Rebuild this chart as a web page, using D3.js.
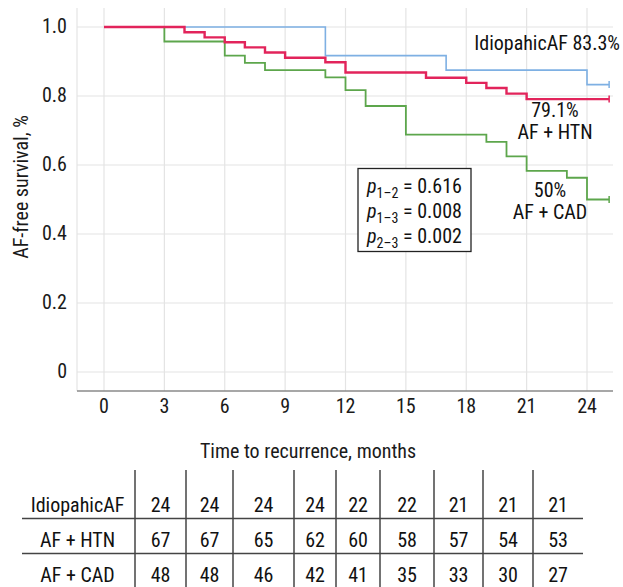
<!DOCTYPE html>
<html>
<head>
<meta charset="utf-8">
<script src="https://cdn.jsdelivr.net/npm/d3@7"></script>
<style>
  body { margin: 0; background: #fff; }
  svg { display: block; font-family: "Roboto Condensed", Roboto, sans-serif; font-stretch: condensed; }
</style>
</head>
<body>
<svg id="chart" width="623" height="587"></svg>
<script>
// Kaplan-Meier steps: [month, survival]
const idiopathic = [[0, 1], [11, 0.917], [17, 0.875], [24, 0.833], [25.1, 0.833]];
const afHtn = [[0, 1], [4, 0.985], [5, 0.970], [6, 0.956], [7, 0.941], [8, 0.926], [9, 0.911],
  [11, 0.898], [12, 0.868], [16, 0.853], [18, 0.838], [19, 0.823], [20, 0.807], [21, 0.791], [25.1, 0.791]];
const afCad = [[0, 1], [3, 0.958], [6, 0.917], [7, 0.896], [8, 0.875], [11, 0.854], [12, 0.817],
  [13, 0.771], [15, 0.688], [19, 0.667], [20, 0.625], [21, 0.583], [23, 0.563], [24, 0.5], [25.1, 0.5]];

const xTicks = [0, 3, 6, 9, 12, 15, 18, 21, 24];
const yTicks = [0, 0.2, 0.4, 0.6, 0.8, 1.0];

const groupNames = ["IdiopahicAF", "AF + HTN", "AF + CAD"];
const atRisk = [
  [24, 24, 24, 24, 22, 22, 21, 21, 21],
  [67, 67, 65, 62, 60, 58, 57, 54, 53],
  [48, 48, 46, 42, 41, 35, 33, 30, 27]
];
const pValues = [["1\u20132", "0.616"], ["1\u20133", "0.008"], ["2\u20133", "0.002"]];

const svg = d3.select("#chart");
const fs = 20;

// plot area
const plotLeft = 77, plotRight = 613, plotTop = 8, plotBottom = 391;
const x = d3.scaleLinear().domain([0, 24]).range([104, 587]);
const y = d3.scaleLinear().domain([0, 1]).range([372, 27]);

// grid
svg.append("g").selectAll("line").data(yTicks).enter().append("line")
  .attr("x1", plotLeft).attr("x2", plotRight)
  .attr("y1", d => y(d)).attr("y2", d => y(d))
  .attr("stroke", "#e4e4e4").attr("stroke-width", 1.2);
svg.append("g").selectAll("line").data(xTicks).enter().append("line")
  .attr("x1", d => x(d)).attr("x2", d => x(d))
  .attr("y1", plotTop).attr("y2", plotBottom)
  .attr("stroke", "#e4e4e4").attr("stroke-width", 1.2);
svg.append("line")
  .attr("x1", plotLeft).attr("x2", plotLeft).attr("y1", plotTop).attr("y2", plotBottom)
  .attr("stroke", "#e4e4e4").attr("stroke-width", 1.2);

// bottom axis line
svg.append("line")
  .attr("x1", plotLeft).attr("x2", plotRight).attr("y1", plotBottom).attr("y2", plotBottom)
  .attr("stroke", "#8a8a8a").attr("stroke-width", 1.5);

// tick labels
svg.append("g").selectAll("text").data(xTicks).enter().append("text")
  .attr("x", d => x(d)).attr("y", 413)
  .attr("text-anchor", "middle").attr("font-size", fs).attr("fill", "#1a1a1a")
  .text(d => d);
svg.append("g").selectAll("text").data(yTicks).enter().append("text")
  .attr("x", 67).attr("y", d => y(d) + 6)
  .attr("text-anchor", "end").attr("font-size", fs).attr("fill", "#1a1a1a")
  .text(d => d === 0 ? "0" : d.toFixed(1));

// axis titles
svg.append("text")
  .attr("transform", "translate(28,187) rotate(-90)")
  .attr("text-anchor", "middle").attr("font-size", fs).attr("fill", "#1a1a1a")
  .text("AF-free survival, %");
svg.append("text")
  .attr("x", 308).attr("y", 458)
  .attr("text-anchor", "middle").attr("font-size", fs).attr("fill", "#1a1a1a")
  .text("Time to recurrence, months");

// curves
const line = d3.line().x(d => x(d[0])).y(d => y(d[1])).curve(d3.curveStepAfter);
const series = [
  { data: idiopathic, color: "#7eb0e3", width: 1.6 },
  { data: afCad, color: "#5da64c", width: 1.8 },
  { data: afHtn, color: "#e2245b", width: 2.4 }
];
series.forEach(s => {
  svg.append("path").datum(s.data)
    .attr("d", line).attr("fill", "none")
    .attr("stroke", s.color).attr("stroke-width", s.width);
  const last = s.data[s.data.length - 1];
  svg.append("line")
    .attr("x1", x(last[0])).attr("x2", x(last[0]))
    .attr("y1", y(last[1]) - 3.5).attr("y2", y(last[1]) + 3.5)
    .attr("stroke", s.color).attr("stroke-width", 1.5);
});

// curve annotations
const notes = [
  { text: "IdiopahicAF 83.3%", x: 620, y: 50, anchor: "end" },
  { text: "79.1%", x: 555, y: 117, anchor: "middle" },
  { text: "AF + HTN", x: 555, y: 139, anchor: "middle" },
  { text: "50%", x: 550, y: 197, anchor: "middle" },
  { text: "AF + CAD", x: 550, y: 219, anchor: "middle" }
];
svg.append("g").selectAll("text").data(notes).enter().append("text")
  .attr("x", d => d.x).attr("y", d => d.y)
  .attr("text-anchor", d => d.anchor).attr("font-size", fs).attr("fill", "#111")
  .text(d => d.text);

// p-value box
svg.append("rect")
  .attr("x", 358).attr("y", 168.5).attr("width", 113).attr("height", 83)
  .attr("fill", "#fff").attr("stroke", "#222").attr("stroke-width", 1.3);
const pt = svg.append("g").selectAll("text").data(pValues).enter().append("text")
  .attr("x", 367).attr("y", (d, i) => 193 + i * 25)
  .attr("font-size", fs).attr("fill", "#111");
pt.append("tspan").attr("font-style", "italic").text("p");
pt.append("tspan").attr("font-size", 14).attr("dy", 5).text(d => d[0]);
pt.append("tspan").attr("dy", -5).text(d => " = " + d[1]);

// number-at-risk table
const colEdges = [22, 135, 186, 233, 294, 336, 380, 434, 483, 533, 583];
const rowBase = [512, 547, 582];
const tbl = svg.append("g");
tbl.selectAll("line.v").data(colEdges.slice(1, -1)).enter().append("line")
  .attr("x1", d => d).attr("x2", d => d).attr("y1", 470).attr("y2", 587)
  .attr("stroke", "#444").attr("stroke-width", 1.5);
tbl.selectAll("line.h").data([518.5, 553.5]).enter().append("line")
  .attr("x1", colEdges[0]).attr("x2", colEdges[colEdges.length - 1])
  .attr("y1", d => d).attr("y2", d => d)
  .attr("stroke", "#444").attr("stroke-width", 1.5);
groupNames.forEach((name, r) => {
  tbl.append("text")
    .attr("x", (colEdges[0] + colEdges[1]) / 2 - 1).attr("y", rowBase[r])
    .attr("text-anchor", "middle").attr("font-size", fs).attr("fill", "#111")
    .text(name);
  tbl.selectAll(null).data(atRisk[r]).enter().append("text")
    .attr("x", (d, i) => (colEdges[i + 1] + colEdges[i + 2]) / 2)
    .attr("y", rowBase[r])
    .attr("text-anchor", "middle").attr("font-size", fs).attr("fill", "#111")
    .text(d => d);
});
</script>
</body>
</html>
